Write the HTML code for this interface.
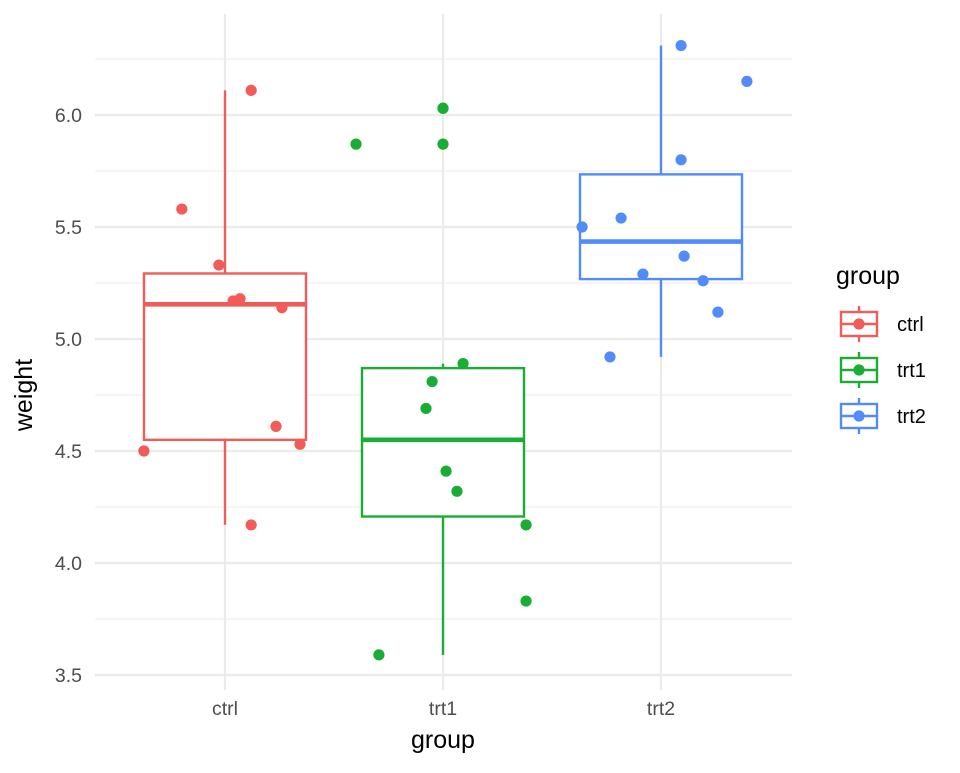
<!DOCTYPE html>
<html><head><meta charset="utf-8"><style>
body{margin:0;background:#fff;}
svg text{font-family:"Liberation Sans",sans-serif;}
</style></head><body>
<svg id="chart" width="960" height="768" viewBox="0 0 960 768" xmlns="http://www.w3.org/2000/svg">
<g id="grid"></g>
<g id="marks"></g>
<g id="axes"></g>
<text x="443" y="748" font-size="25" text-anchor="middle" fill="#000">group</text>
<text transform="translate(32,395) rotate(-90)" font-size="25" text-anchor="middle" fill="#000">weight</text>
<g id="legend"></g>
</svg>
<script>
const categories = ["ctrl","trt1","trt2"];
const colors = ["#F25C58","#19AE33","#528BFA"];
const yTicks = [3.5,4.0,4.5,5.0,5.5,6.0];
const yTickLabels = ["3.5","4.0","4.5","5.0","5.5","6.0"];
const boxMin = [4.17,3.59,4.92];
const boxQ1 = [4.55,4.2075,5.2675];
const boxMed = [5.155,4.55,5.435];
const boxQ3 = [5.2925,4.87,5.735];
const boxMax = [6.11,4.89,6.31];
const outliers = [[],[5.87,6.03],[]];
const ctrlValues = [4.17,5.58,5.18,6.11,4.50,4.61,5.17,4.53,5.33,5.14];
const ctrlJitter = [0.12,-0.198,0.069,0.12,-0.372,0.234,0.037,0.344,-0.028,0.261];
const trt1Values = [4.81,4.17,4.41,3.59,5.87,3.83,6.03,4.89,4.32,4.69];
const trt1Jitter = [-0.05,0.381,0.014,-0.294,-0.399,0.381,0.0,0.092,0.064,-0.078];
const trt2Values = [6.31,5.12,5.54,5.50,5.37,5.29,4.92,6.15,5.80,5.26];
const trt2Jitter = [0.092,0.261,-0.183,-0.362,0.106,-0.083,-0.234,0.394,0.092,0.193];
const pointValues = [ctrlValues,trt1Values,trt2Values];
const pointJitter = [ctrlJitter,trt1Jitter,trt2Jitter];

const NS="http://www.w3.org/2000/svg";
const x0=225, dx=218, boxHalf=81;
function xScale(i){return x0+i*dx;}
function yScale(v){return 115+(6.0-v)*224;}
function mk(tag,attrs,parent){const e=document.createElementNS(NS,tag);for(const k in attrs)e.setAttribute(k,attrs[k]);parent.appendChild(e);return e;}
const grid=document.getElementById('grid'),marks=document.getElementById('marks'),axes=document.getElementById('axes'),legend=document.getElementById('legend');
for(let i=0;i<yTicks.length;i++){
  const y=yScale(yTicks[i]);
  const l=mk('line',{x1:95,x2:792,y1:y,y2:y,stroke:'#ebebeb','stroke-width':2.2},grid);
  
  
  if(i<yTicks.length-1){const ym=yScale((yTicks[i]+yTicks[i+1])/2);
    const m=mk('line',{x1:95,x2:792,y1:ym,y2:ym,stroke:'#ebebeb','stroke-width':1.1},grid);
    
    }
  const t=mk('text',{x:82,y:y+7,'font-size':19.5,'text-anchor':'end',fill:'#4d4d4d'},axes);
  t.textContent=yTickLabels[i];
  
  
}
{const ym=yScale(6.0)-(yScale(5.5)-yScale(6.0))/2;const m=mk('line',{x1:95,x2:792,y1:ym,y2:ym,stroke:'#ebebeb','stroke-width':1.1},grid);

}
categories.forEach((c,i)=>{
  const x=xScale(i);
  const g=mk('line',{x1:x,x2:x,y1:14,y2:690,stroke:'#ebebeb','stroke-width':2.2},grid);
  
  
  const t=mk('text',{x:x,y:715,'font-size':19.5,'text-anchor':'middle',fill:'#4d4d4d'},axes);
  t.textContent=c;
  
  
  const col=colors[i];
  const bg=mk('g',{},marks);
  
  
  mk('line',{x1:x,x2:x,y1:yScale(boxMax[i]),y2:yScale(boxQ3[i]),stroke:col,'stroke-width':2.4},bg);
  mk('line',{x1:x,x2:x,y1:yScale(boxQ1[i]),y2:yScale(boxMin[i]),stroke:col,'stroke-width':2.4},bg);
  mk('rect',{x:x-boxHalf,y:yScale(boxQ3[i]),width:2*boxHalf,height:yScale(boxQ1[i])-yScale(boxQ3[i]),fill:'#fff',stroke:col,'stroke-width':2.4},bg);
  mk('line',{x1:x-boxHalf,x2:x+boxHalf,y1:yScale(boxMed[i]),y2:yScale(boxMed[i]),stroke:col,'stroke-width':4.6},bg);
  outliers[i].forEach(v=>{const o=mk('circle',{cx:x,cy:yScale(v),r:5.6,fill:col},marks);
    
    });
});
categories.forEach((c,i)=>{
  pointValues[i].forEach((v,j)=>{
    const p=mk('circle',{cx:xScale(i+pointJitter[i][j]),cy:yScale(v),r:5.6,fill:colors[i]},marks);
    
    
  });
});
const lt=mk('text',{x:836,y:284,'font-size':25,fill:'#000'},legend);
lt.textContent='group';


categories.forEach((c,i)=>{
  const cy=324+i*46,col=colors[i];
  const g=mk('g',{},legend);
  
  
  mk('line',{x1:859,x2:859,y1:cy-18,y2:cy+18,stroke:col,'stroke-width':2.4},g);
  mk('rect',{x:841,y:cy-12,width:36,height:24,fill:'#fff',stroke:col,'stroke-width':2.4},g);
  mk('line',{x1:841,x2:877,y1:cy,y2:cy,stroke:col,'stroke-width':2.4},g);
  mk('circle',{cx:859,cy:cy,r:5.6,fill:col},g);
  const t=mk('text',{x:897,y:cy+7,'font-size':20,fill:'#000'},g);
  t.textContent=c;
});
</script>
</body></html>
